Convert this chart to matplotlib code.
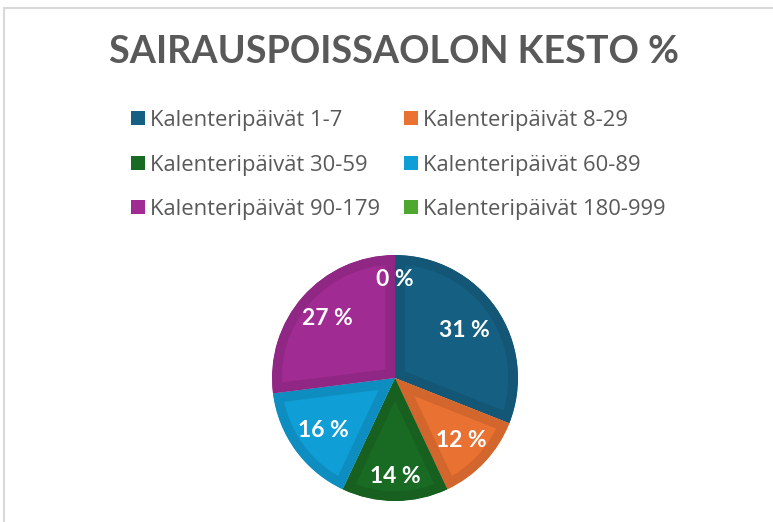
import numpy as np
import matplotlib.pyplot as plt
from matplotlib.patches import Rectangle
import matplotlib.colors as mcolors

categories = ['Kalenteripäivät 1-7', 'Kalenteripäivät 8-29', 'Kalenteripäivät 30-59',
              'Kalenteripäivät 60-89', 'Kalenteripäivät 90-179', 'Kalenteripäivät 180-999']
shares = [31, 12, 14, 16, 27, 0]
colors = ['#156082', '#E97132', '#196B24', '#0F9ED5', '#A02B93', '#4EA72E']
title = 'SAIRAUSPOISSAOLON KESTO %'

# excel "best fit" label distances (fraction of radius)
label_dist = [0.68, 0.74, 0.8, 0.72, 0.73, 0.8]

plt.rcParams['font.family'] = ['Lato', 'DejaVu Sans']
W, H = 773, 522

fig = plt.figure(figsize=(W / 100, H / 100), dpi=100)

# light grey chart frame
fig.patches.append(Rectangle((4 / W, -0.1), 1.2, (H - 8) / H + 0.1,
                             transform=fig.transFigure, fill=False,
                             edgecolor='#d9d9d9', linewidth=1.5))

# pie centred at (395, 378) px, radius 123 px
cx, cy, r = 395, 378, 123
ax = fig.add_axes([(cx - r) / W, (H - cy - r) / H, 2 * r / W, 2 * r / H])

def darker(c, f=0.9):
    rgb = mcolors.to_rgb(c)
    return tuple(v * f for v in rgb)

wedges, texts = ax.pie(shares, colors=colors, startangle=90, counterclock=False,
                       wedgeprops=dict(linewidth=0))

total = sum(shares)
for w, c, v, d in zip(wedges, colors, shares, label_dist):
    mid = np.deg2rad((w.theta1 + w.theta2) / 2)
    ax.text(d * np.cos(mid), d * np.sin(mid), f'{100 * v / total:.0f} %',
            ha='center', va='center', color='white', fontsize=16.5, fontweight='bold')
    if v == 0:
        continue
    # darker inner border like the office style (clipped to the wedge itself)
    w.set_edgecolor(darker(c))
    w.set_linewidth(14)
    w.set_clip_on(True)
    w.set_clip_path(w.get_path(), w.get_transform())

ax.set_xlim(-1, 1)
ax.set_ylim(-1, 1)
ax.set_aspect('equal')
ax.axis('off')

fig.text(394 / W, 1 - 52 / H, title, ha='center', va='center',
         fontsize=27.2, fontweight='bold', color='#595959')

# legend, two columns filled row by row
for i, (lab, c) in enumerate(zip(categories, colors)):
    row, col = divmod(i, 2)
    x0 = 131 + col * 273
    y0 = 118 + row * 44.5
    fig.patches.append(Rectangle((x0 / W, 1 - (y0 + 7) / H), 14 / W, 14 / H,
                                 transform=fig.transFigure, facecolor=c,
                                 edgecolor='none'))
    fig.text((x0 + 19) / W, 1 - y0 / H, lab, ha='left', va='center_baseline',
             fontsize=15.8, color='#595959', family=['Open Sans', 'DejaVu Sans'])

fig.savefig('out.png', dpi=100)
